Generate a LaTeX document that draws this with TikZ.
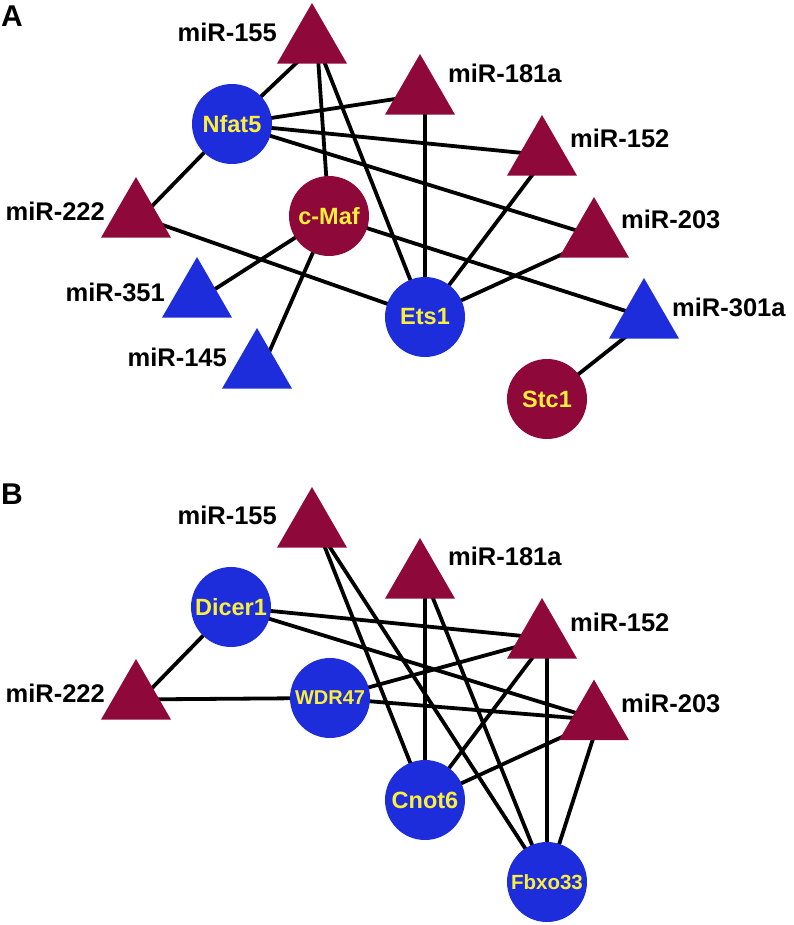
\documentclass[tikz,border=0pt]{standalone}
\usepackage{fontspec}
\setmainfont{Liberation Sans}
\usetikzlibrary{shapes.geometric,backgrounds}
\definecolor{mar}{RGB}{142,8,58}
\definecolor{blu}{RGB}{30,45,220}
\definecolor{ylw}{RGB}{250,240,60}
\tikzset{
  tri/.style={regular polygon,regular polygon sides=3,minimum size=80.8pt,inner sep=0pt,draw=none},
  mtri/.style={tri,fill=mar},
  btri/.style={tri,fill=blu},
  circ/.style={circle,minimum size=80pt,inner sep=0pt,draw=none,text=ylw,font=\bfseries\fontsize{23.5}{23.5}\selectfont},
  mcirc/.style={circ,fill=mar},
  bcirc/.style={circ,fill=blu},
  lbl/.style={inner sep=0pt,font=\bfseries\fontsize{25.5}{25.5}\selectfont},
  panel/.style={inner sep=0pt,anchor=west,font=\bfseries\fontsize{30}{30}\selectfont},
  edge/.style={line width=3.8pt,black}
}
\begin{document}
\begin{tikzpicture}[x=1pt,y=-1pt]
\useasboundingbox (0,0) rectangle (793,925);
% ---------- Panel A ----------
\node[panel] (pA) at (1,16) {A};
\node[mtri] (a155) at (312,43.4) {};
\node[mtri] (a181) at (420,94.4) {};
\node[mtri] (a152) at (542,155.4) {};
\node[mtri] (a203) at (594,237.4) {};
\node[mtri] (a222) at (136,217.4) {};
\node[btri] (a351) at (197,297.4) {};
\node[btri] (a145) at (257,368.4) {};
\node[btri] (a301) at (644,318.4) {};
\node[bcirc] (nfat5) at (232,124) {Nfat5};
\node[mcirc] (cmaf) at (329,216) {c-Maf};
\node[bcirc] (ets1) at (425,317) {Ets1};
\node[mcirc] (stc1) at (547,399) {Stc1};
\node[lbl,anchor=east] (la155) at (277,32) {miR-155};
\node[lbl,anchor=west] (la181) at (448,73) {miR-181a};
\node[lbl,anchor=west] (la152) at (570,138) {miR-152};
\node[lbl,anchor=west] (la203) at (621,219) {miR-203};
\node[lbl,anchor=east] (la222) at (105,211) {miR-222};
\node[lbl,anchor=east] (la351) at (165,292) {miR-351};
\node[lbl,anchor=east] (la145) at (227,357) {miR-145};
\node[lbl,anchor=west] (la301) at (672,307) {miR-301a};
% ---------- Panel B ----------
\node[panel] (pB) at (1,494) {B};
\node[mtri] (b155) at (312,527.4) {};
\node[mtri] (b181) at (420,578.4) {};
\node[mtri] (b152) at (542,638.4) {};
\node[mtri] (b203) at (594,720) {};
\node[mtri] (b222) at (136,699.4) {};
\node[bcirc] (dicer) at (231,607) {Dicer1};
\node[bcirc,font=\bfseries\fontsize{20}{20}\selectfont] (wdr) at (330,698) {WDR47};
\node[bcirc,font=\bfseries\fontsize{20.5}{20.5}\selectfont] (fbxo) at (547,882) {Fbxo33};
\node[bcirc] (cnot) at (425,800) {Cnot6};
\node[lbl,anchor=east] (lb155) at (277,515) {miR-155};
\node[lbl,anchor=west] (lb181) at (448,556) {miR-181a};
\node[lbl,anchor=west] (lb152) at (570,622) {miR-152};
\node[lbl,anchor=west] (lb203) at (621,703) {miR-203};
\node[lbl,anchor=east] (lb222) at (105,693) {miR-222};
% edge attachment points of triangles
\foreach \t in {a155,a181,a152,a203,a222,a351,a145,a301,b155,b181,b152,b203,b222}
  \coordinate (\t c) at ([xshift=5pt]\t.center);
% ---------- Edges ----------
\begin{pgfonlayer}{background}
\draw[edge] (a155c) -- (nfat5.center);
\draw[edge] (a155c) -- (cmaf.center);
\draw[edge] (a155c) -- (ets1.center);
\draw[edge] (nfat5.center) -- (a181c);
\draw[edge] (nfat5.center) -- (a152c);
\draw[edge] (nfat5.center) -- (a203c);
\draw[edge] (nfat5.center) -- (a222c);
\draw[edge] (a222c) -- (ets1.center);
\draw[edge] (cmaf.center) -- (a351c);
\draw[edge] (cmaf.center) -- (a145c);
\draw[edge] (cmaf.center) -- (a301c);
\draw[edge] (ets1.center) -- (a181c);
\draw[edge] (ets1.center) -- (a152c);
\draw[edge] (ets1.center) -- (a203c);
\draw[edge] (a301c) -- (stc1.center);
% B
\draw[edge] (b155c) -- (cnot.center);
\draw[edge] (b155c) -- (fbxo.center);
\draw[edge] (dicer.center) -- (b152c);
\draw[edge] (dicer.center) -- (b203c);
\draw[edge] (dicer.center) -- (b222c);
\draw[edge] (b222c) -- (wdr.center);
\draw[edge] (wdr.center) -- (b152c);
\draw[edge] (wdr.center) -- (b203c);
\draw[edge] (b181c) -- (cnot.center);
\draw[edge] (b181c) -- (fbxo.center);
\draw[edge] (b152c) -- (cnot.center);
\draw[edge] (b152c) -- (fbxo.center);
\draw[edge] (b203c) -- (cnot.center);
\draw[edge] (b203c) -- (fbxo.center);
\end{pgfonlayer}
\end{tikzpicture}
\end{document}
